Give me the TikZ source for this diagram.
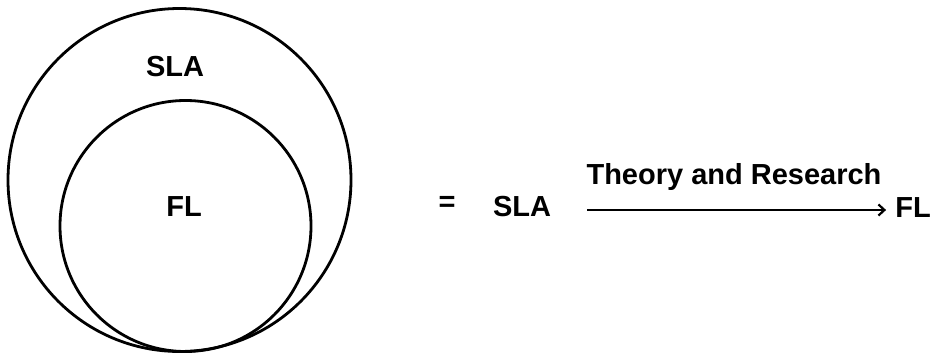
\documentclass[tikz,border=0pt]{standalone}
\usepackage{fontspec}
\setmainfont{Liberation Sans}
\usetikzlibrary{arrows.meta}
\begin{document}
\begin{tikzpicture}[x=1pt,y=1pt,
  ring/.style={draw=black,line width=2.8pt},
  lbl/.style={font=\fontsize{29}{32}\selectfont\bfseries,inner sep=0pt},
  conn/.style={draw=black,line width=2.4pt,-{Straight Barb[length=6pt,width=11pt,line width=2.2pt]}}]
\useasboundingbox (0,0) rectangle (941,357);
\draw[ring] (179.5,177) circle[radius=171.5];
\draw[ring] (185.5,131) circle[radius=125.5];
\node[lbl] (sla1) at (175,290) {SLA};
\node[lbl] (fl1) at (184,150) {FL};
\node[lbl] (eq) at (447,153) {=};
\node[lbl] (sla2) at (522,150) {SLA};
\node[lbl] (fl2) at (913,149) {FL};
\node[lbl] (tr) at (734,180) {Theory and Research};
\draw[conn,shorten <=36pt,shorten >=9pt] (sla2.east |- 0,147) -- (fl2.west |- 0,147);
\end{tikzpicture}
\end{document}
